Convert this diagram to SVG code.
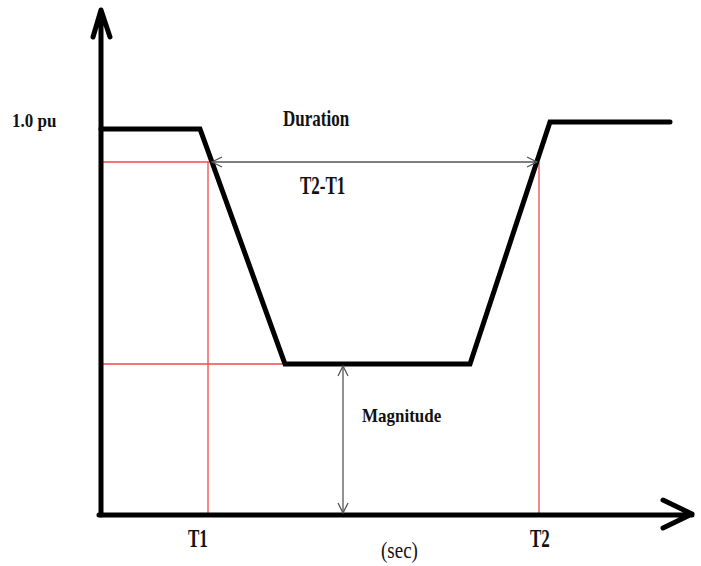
<svg xmlns="http://www.w3.org/2000/svg" width="701" height="566" viewBox="0 0 701 566">
<style>
.axis{fill:none;stroke:#000;stroke-width:5;stroke-linecap:round;stroke-linejoin:round}
.curve{fill:none;stroke:#000;stroke-width:5;stroke-linecap:round;stroke-linejoin:miter}
.red{fill:none;stroke:#f04a4a;stroke-width:1.3}
.dim{fill:none;stroke:#555;stroke-width:1.3}
.lbl{font-family:"Liberation Serif","Times New Roman",serif;font-weight:bold;font-size:17px;fill:#111}
.unit{font-family:"Liberation Serif","Times New Roman",serif;font-size:19px;fill:#111}
</style>
<defs>
<marker id="ah" viewBox="0 0 12 12" refX="11" refY="6" markerWidth="12" markerHeight="12" markerUnits="userSpaceOnUse" orient="auto-start-reverse">
<path d="M1,1 L11,6 L1,11" fill="none" stroke="#555" stroke-width="1.3"/>
</marker>
</defs>
<rect width="701" height="566" fill="#fff"/>
<g id="guides">
<path class="red" d="M101,162 H209 M208,162 V515 M101,364 H285 M539,162 V515"/>
</g>
<g id="axes">
<path class="axis" d="M101,515 V10 M93,37 L101,10 L110,37"/>
<path class="axis" d="M99,515 H692 M663,500 L692,514 L663,528"/>
</g>
<g id="curve">
<path class="curve" d="M101,129 H200 L285,364 H470 L550,122 H670"/>
</g>
<g id="connectors">
<line class="dim" x1="212" y1="162" x2="537" y2="162" marker-start="url(#ah)" marker-end="url(#ah)"/>
<line class="dim" x1="343" y1="366" x2="343" y2="513" marker-start="url(#ah)" marker-end="url(#ah)"/>
</g>
<g id="labels">
<text class="lbl" transform="translate(12,127) scale(1,1.15)">1.0 pu</text>
<text class="lbl" transform="translate(283,126) scale(1,1.35)">Duration</text>
<text class="lbl" transform="translate(300,194) scale(1,1.45)">T2-T1</text>
<text class="lbl" transform="translate(362,422) scale(1,1.15)">Magnitude</text>
<text class="lbl" transform="translate(188,547) scale(1,1.45)">T1</text>
<text class="lbl" transform="translate(530,547) scale(1,1.45)">T2</text>
<text class="unit" transform="translate(381,558) scale(1,1.25)">(sec)</text>
</g>
</svg>
